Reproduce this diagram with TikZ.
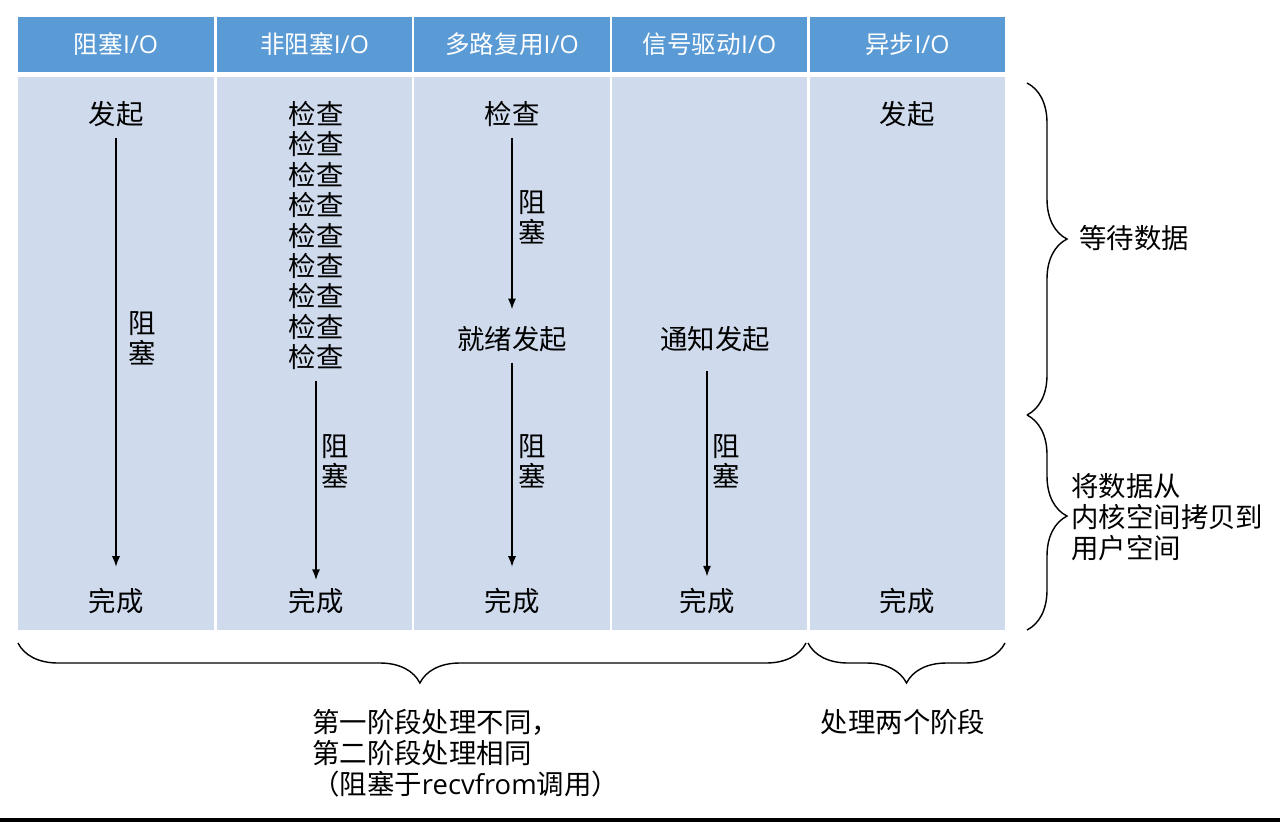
\documentclass[tikz,border=0pt]{standalone}
\usepackage{fontspec}
\setmainfont{Noto Sans CJK SC}
\newfontfamily\latinfont{Open Sans}
\usepackage{xcolor}
\usetikzlibrary{arrows.meta, positioning, calc, decorations.pathreplacing}

\definecolor{headblue}{RGB}{91,155,213}
\definecolor{bodyblue}{RGB}{207,219,236}
\newcommand{\iolbl}{{\latinfont I/O}}

\begin{document}
\begin{tikzpicture}[
      x=0.02cm, y=-0.02cm,
      headbox/.style={
          fill=headblue,
          minimum width=3.92cm,
          minimum height=1.1cm,
          inner sep=0pt,
          text=white,
          font=\fontsize{14}{16}\selectfont
      },
      bodybox/.style={
          fill=bodyblue,
          minimum width=3.92cm,
          minimum height=11.06cm,
          inner sep=0pt
      },
      txt/.style={
          inner sep=0pt,
          align=center,
          font=\fontsize{15.6}{17.2}\selectfont
      },
      note/.style={
          inner sep=0pt,
          align=left,
          font=\fontsize{15.6}{17.5}\selectfont
      },
      arrow/.style={-{Latex[length=6pt, width=4.6pt]}, line width=0.8pt},
      brace/.style={decorate, decoration={brace, amplitude=0.8cm}, line width=0.8pt}
  ]
      \fill[white] (0,0) rectangle (1280,822);
      \useasboundingbox (0,0) rectangle (1280,822);

      % --- Columns ---
      \foreach \cx/\name/\lbl in {116/1/{阻塞\iolbl}, 314.5/2/{非阻塞\iolbl}, 512/3/{多路复用\iolbl},
                                  709.5/4/{信号驱动\iolbl}, 907.5/5/{异步\iolbl}} {
          \node[headbox] (head\name) at (\cx, 44.5) {\lbl};
          \node[bodybox] (body\name) at (\cx, 353.5) {};
      }

      % --- Blocking I/O ---
      \node[txt] (start1) at (116, 114) {发起};
      \node[txt] (done1) at (116, 601) {完成};
      \node[txt] (blk1) at (142, 338) {阻\\塞};

      % --- Non-blocking I/O ---
      \foreach \i in {1,...,9} {
          \node[txt] (check\i) at (316, {114 + (\i - 1) * 30.4}) {检查};
      }
      \node[txt] (done2) at (316, 601) {完成};
      \node[txt] (blk2) at (335, 461) {阻\\塞};

      % --- Multiplexing I/O ---
      \node[txt] (check3) at (512, 114) {检查};
      \node[txt] (ready3) at (512, 339) {就绪发起};
      \node[txt] (done3) at (512, 601) {完成};
      \node[txt] (blk3a) at (532, 217) {阻\\塞};
      \node[txt] (blk3b) at (532, 461) {阻\\塞};

      % --- Signal-driven I/O ---
      \node[txt] (notify4) at (715, 339) {通知发起};
      \node[txt] (done4) at (707, 601) {完成};
      \node[txt] (blk4) at (726, 461) {阻\\塞};

      % --- Asynchronous I/O ---
      \node[txt] (start5) at (907, 114) {发起};
      \node[txt] (done5) at (907, 601) {完成};

      % --- Connections (arrows) ---
      \draw[arrow, shorten <=6pt, shorten >=12pt] (start1) -- (done1);
      \draw[arrow, shorten <=6pt, shorten >=12pt] (check9) -- (check9 |- done2);
      \draw[arrow, shorten <=6pt, shorten >=9.5pt] (check3) -- (ready3);
      \draw[arrow, shorten <=6pt, shorten >=12pt] (ready3) -- (done3);
      \draw[arrow, shorten <=10.5pt, shorten >=6.5pt] (done4 |- notify4.south) -- (done4);

      % --- Phases ---
      \draw[brace, decoration={aspect=0.47}] (1027, 83) -- (1027, 415);
      \draw[brace, decoration={aspect=0.47}] (1027, 415) -- (1027, 630);
      \node[note, anchor=west] (wait) at (1079, 238) {等待数据};
      \node[note, anchor=west] (copy) at (1071, 517) {将数据从\\内核空间拷贝到\\用户空间};

      % --- Summary ---
      \draw[brace, decoration={aspect=0.49}] (806, 643) -- (18, 643);
      \draw[brace, decoration={aspect=0.5}] (1005, 643) -- (808, 643);
      \node[note, anchor=west] (same) at (312, 753) {第一阶段处理不同，\\第二阶段处理相同\\（阻塞于{\latinfont recvfrom}调用）};
      \node[note] (both) at (903, 722) {处理两个阶段};

      \fill[black] (0, 818) rectangle (1280, 822);
  \end{tikzpicture}
\end{document}
